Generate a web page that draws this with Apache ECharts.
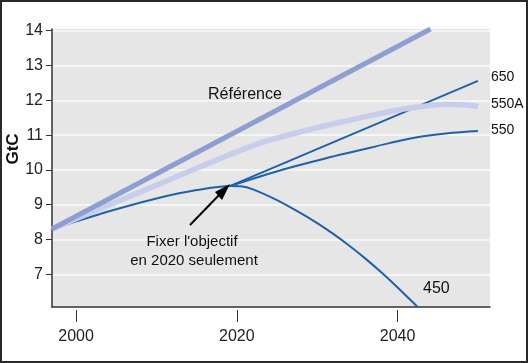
<!DOCTYPE html>
<html><head><meta charset="utf-8">
<script src="https://cdn.jsdelivr.net/npm/echarts@6/dist/echarts.min.js"></script>
<style>
html,body{margin:0;padding:0;background:#fff;}
#c{position:absolute;left:0;top:0;width:528px;height:363px;}
#b{position:absolute;left:0;top:0;width:528px;height:363px;box-sizing:border-box;border:2px solid #2a2a2a;pointer-events:none;}
</style></head>
<body><div id="c"></div><div id="b"></div>
<script>
// Data (years, GtC)
const xTicks = [2000, 2020, 2040];
const yTicks = [7, 8, 9, 10, 11, 12, 13, 14];
const reference = [[1997, 8.3], [2044.1, 14.05]];
const s550A = [[1997, 8.3], [2000, 8.6], [2005, 9.08], [2010, 9.56], [2015, 10.05], [2020, 10.52], [2023, 10.78], [2027, 11.04], [2031, 11.27], [2035, 11.48], [2039, 11.68], [2043, 11.82], [2046, 11.88], [2048, 11.87], [2050, 11.82]];
const s450 = [[1997, 8.3], [2000, 8.52], [2005, 8.87], [2010, 9.18], [2015, 9.42], [2019.2, 9.54], [2020.5, 9.53], [2022, 9.44], [2025, 9.13], [2028, 8.75], [2030, 8.47], [2032, 8.16], [2034, 7.82], [2036, 7.45], [2038, 7.05], [2040, 6.62], [2042.5, 6.06]];
const s650 = [[2019.2, 9.54], [2050, 12.56]];
const s550 = [[2019.2, 9.54], [2023, 9.82], [2027, 10.09], [2031, 10.33], [2035, 10.55], [2039, 10.77], [2043, 10.96], [2046, 11.05], [2050, 11.12]];

const blue = '#1f62aa';
const chart = echarts.init(document.getElementById('c'));
const font = 'Liberation Sans, Arial, sans-serif';
chart.setOption({
  animation: false,
  grid: {left: 52, top: 29, right: 38, bottom: 56, show: true, backgroundColor: '#e6e6e6', borderWidth: 0},
  xAxis: [{
    type: 'value', min: 1997, max: 2051.5,
    axisLine: {show: true, onZero: false, lineStyle: {color: '#333', width: 1.5}},
    axisTick: {show: false}, axisLabel: {show: false}, splitLine: {show: false}
  }, {
    type: 'value', min: 1997, max: 2051.5, position: 'bottom', offset: 3,
    axisLine: {show: false},
    axisTick: {show: true, length: 12, customValues: xTicks, lineStyle: {color: '#333', width: 1}},
    axisLabel: {show: true, customValues: xTicks, formatter: v => String(v), margin: 19, fontSize: 16, color: '#222', fontFamily: font},
    splitLine: {show: false}
  }],
  yAxis: {
    type: 'value', min: 6.06, max: 14.05,
    axisLine: {show: true, onZero: false, lineStyle: {color: '#333', width: 1.5}},
    axisTick: {show: true, length: 6, customValues: yTicks, lineStyle: {color: '#333'}},
    axisLabel: {customValues: yTicks, margin: 9, fontSize: 16, color: '#222', fontFamily: font},
    splitLine: {show: true, lineStyle: {color: '#fafafa', width: 1.5}}
  },
  series: [
    {name: '450', type: 'line', data: s450, smooth: 0.3, symbol: 'none', lineStyle: {color: blue, width: 2}},
    {name: '650', type: 'line', data: s650, symbol: 'none', lineStyle: {color: blue, width: 2}},
    {name: '550', type: 'line', data: s550, smooth: 0.4, symbol: 'none', lineStyle: {color: blue, width: 2}},
    {name: '550A', type: 'line', data: s550A, smooth: 0.4, symbol: 'none', lineStyle: {color: '#c6ceec', width: 5.5}},
    {name: 'Référence', type: 'line', data: reference, symbol: 'none', lineStyle: {color: '#8e9ed2', width: 5}}
  ],
  graphic: [
    {type: 'text', z: 100, x: 13, y: 149, rotation: Math.PI / 2, style: {text: 'GtC', font: 'bold 17px ' + font, fill: '#111', align: 'center', verticalAlign: 'middle'}},
    {type: 'text', z: 100, x: 208, y: 95, style: {text: 'Référence', font: '16px ' + font, fill: '#111', verticalAlign: 'middle'}},
    {type: 'text', z: 100, x: 491, y: 77, style: {text: '650', font: '14px ' + font, fill: '#111', verticalAlign: 'middle'}},
    {type: 'text', z: 100, x: 491, y: 104, style: {text: '550A', font: '14px ' + font, fill: '#111', verticalAlign: 'middle'}},
    {type: 'text', z: 100, x: 491, y: 130, style: {text: '550', font: '14px ' + font, fill: '#111', verticalAlign: 'middle'}},
    {type: 'text', z: 100, x: 423, y: 289, style: {text: '450', font: '16px ' + font, fill: '#111', verticalAlign: 'middle'}},
    {type: 'text', z: 100, x: 192, y: 242, style: {text: "Fixer l'objectif", font: '15px ' + font, fill: '#111', align: 'center', verticalAlign: 'middle'}},
    {type: 'text', z: 100, x: 194, y: 261, style: {text: 'en 2020 seulement', font: '15px ' + font, fill: '#111', align: 'center', verticalAlign: 'middle'}},
    {type: 'line', z: 100, shape: {x1: 190, y1: 225, x2: 222, y2: 192}, style: {stroke: '#000', lineWidth: 2}},
    {type: 'polygon', z: 100, shape: {points: [[230, 184], [215, 192], [222, 200]]}, style: {fill: '#000'}}
  ]
});
</script></body></html>
